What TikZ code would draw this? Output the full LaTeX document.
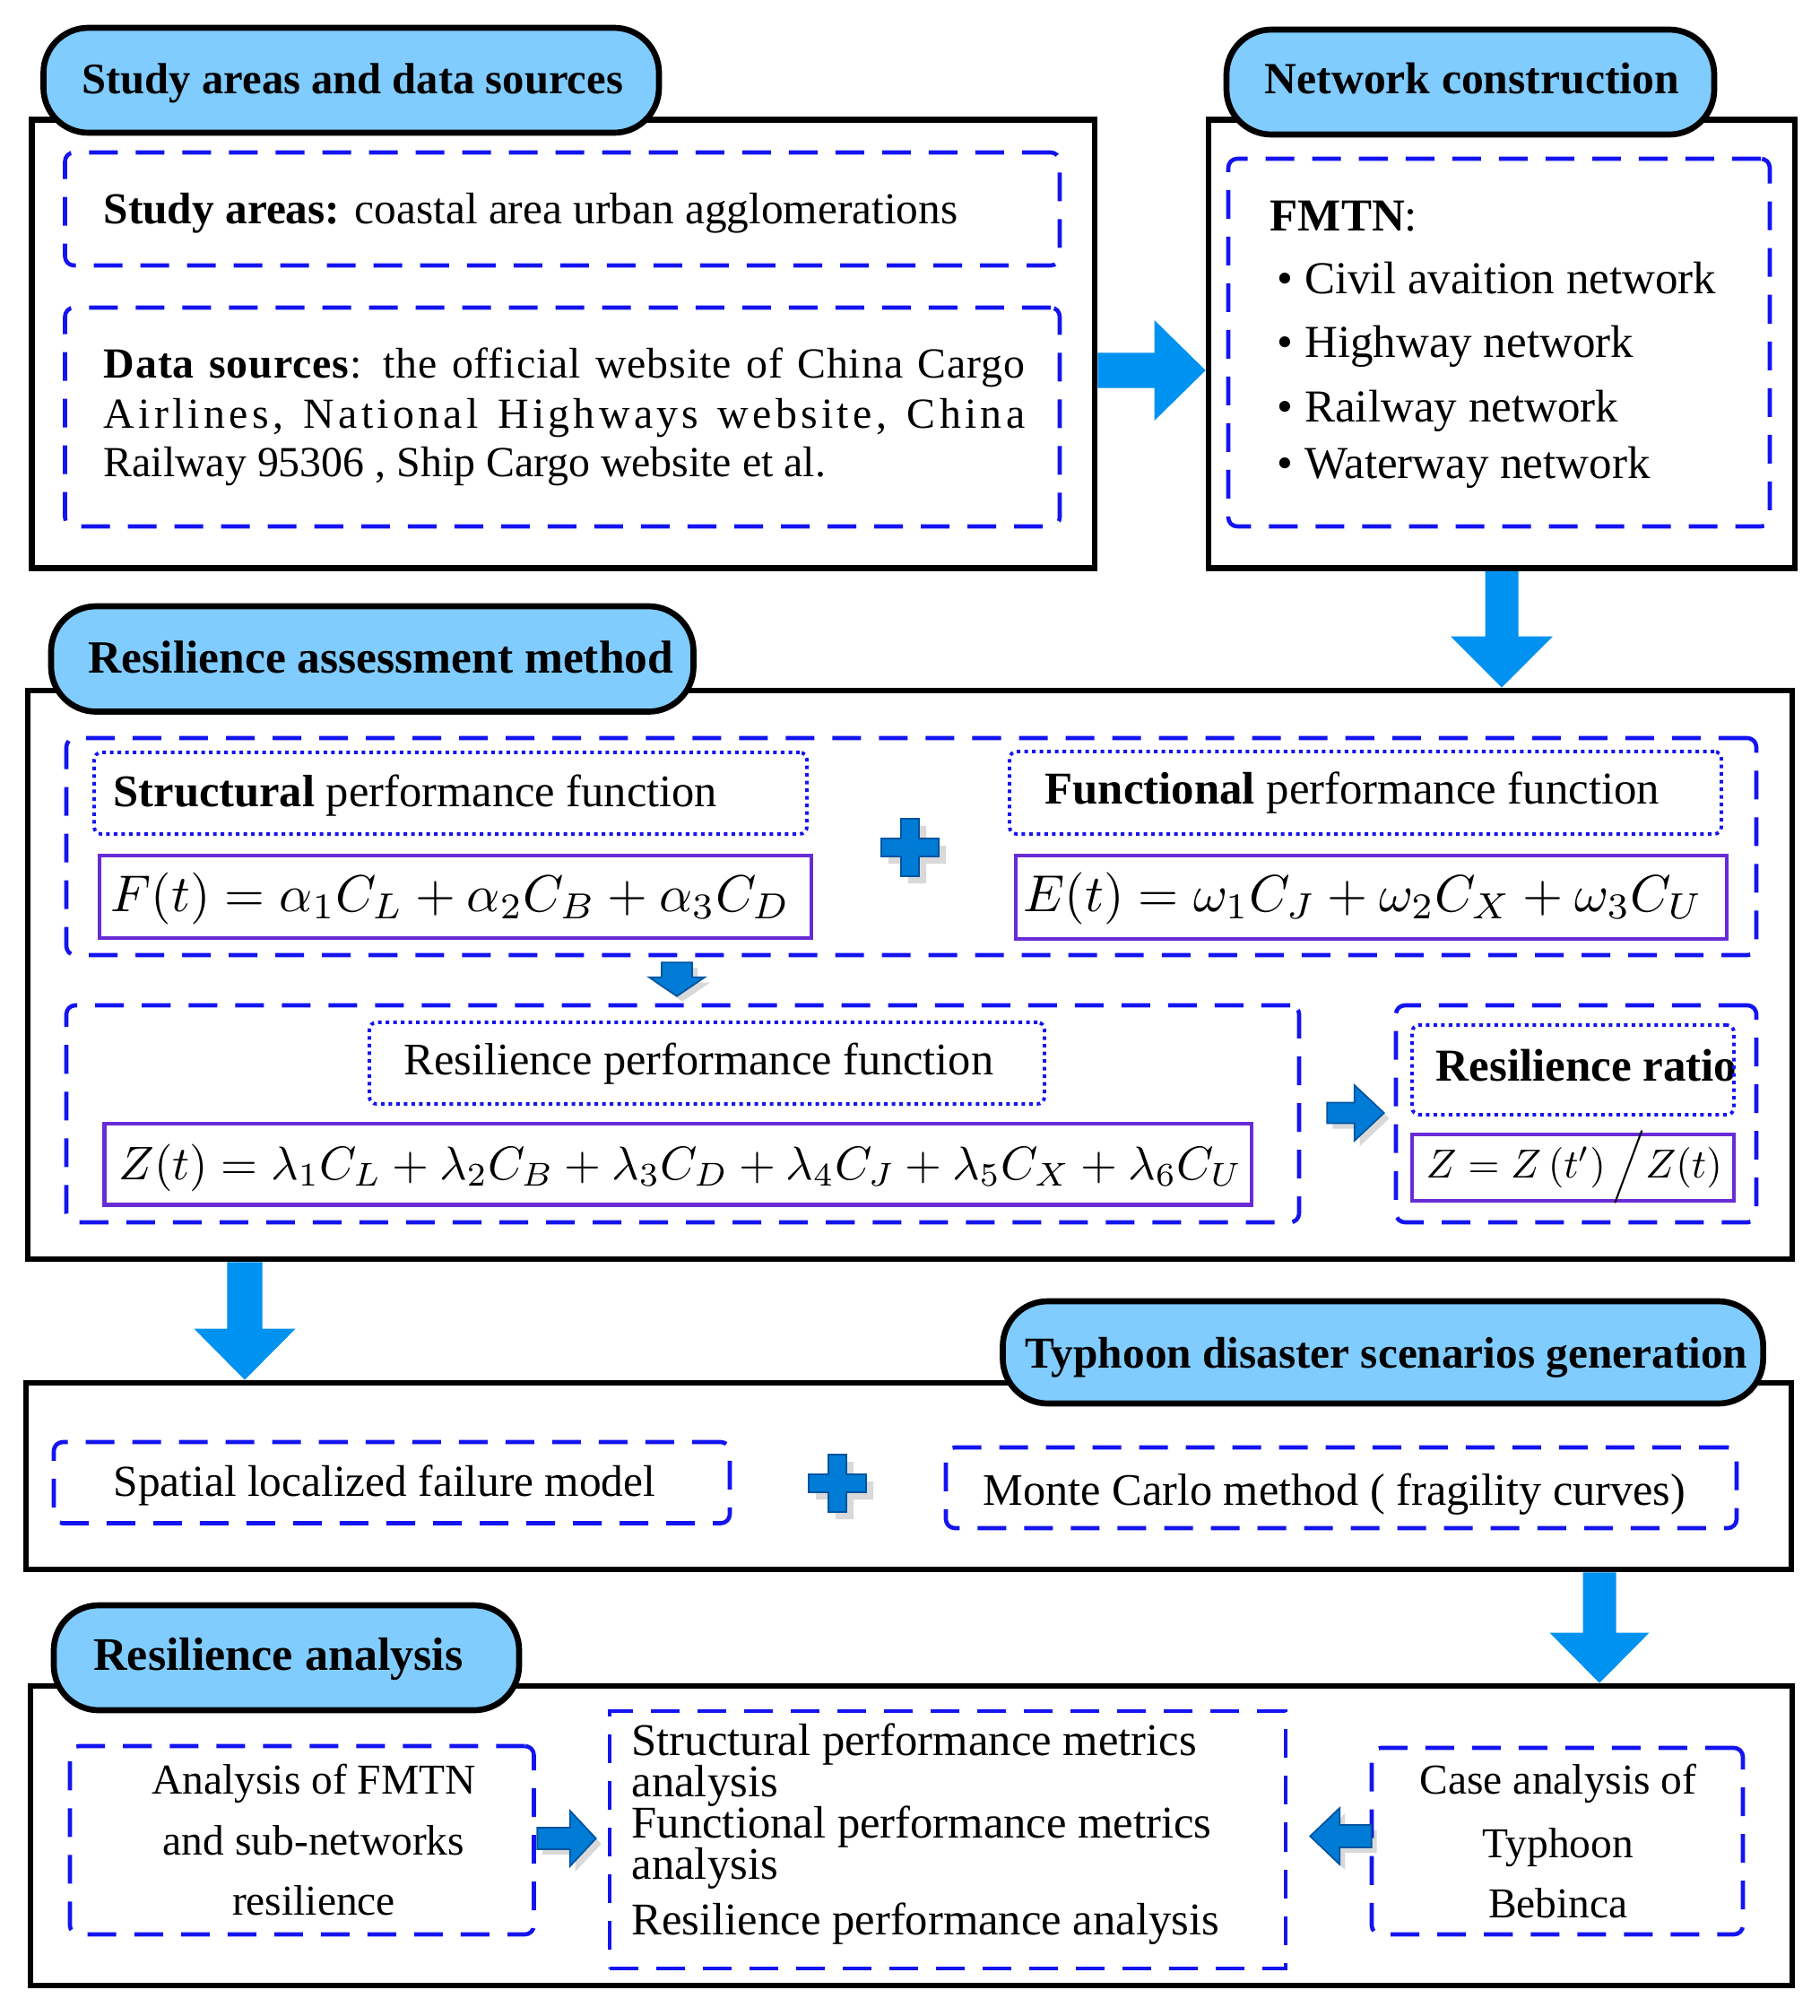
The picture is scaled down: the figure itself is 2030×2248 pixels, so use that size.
\documentclass[tikz,border=0pt]{standalone}
\usepackage{fontspec}
\setmainfont{Liberation Serif}
\usepackage{graphicx}
\usetikzlibrary{calc,fit}
\definecolor{pillblue}{RGB}{128,204,255}
\definecolor{dblue}{RGB}{20,20,240}
\definecolor{eqpurple}{RGB}{104,44,214}
\definecolor{arrowblue}{RGB}{0,146,240}
\definecolor{sarrow}{RGB}{0,124,214}
\definecolor{sarrowline}{RGB}{0,84,160}
\newcommand\fw[2]{\resizebox{#1}{!}{#2}}
\newcommand\fsdata{\fontsize{13.6pt}{15pt}\selectfont}
\newcommand\fsfm{\fontsize{14.5pt}{16pt}\selectfont}
\newcommand\fsmid{\fontsize{14.4pt}{16pt}\selectfont}
\newcommand\fsside{\fontsize{13.5pt}{16pt}\selectfont}
\newcommand\fsratio{\fontsize{14.5pt}{16pt}\selectfont}
\newcommand\areabox[6]{\node[#1, fit={(#3,#4) (#5,#6)}] (#2) {};}
\newcommand\blockarrow[6]{%
  \coordinate (baA) at (#2);
  \coordinate (baB) at (#3);
  \coordinate (baH) at ($(baB)!#6!(baA)$);
  \path[#1] ($(baA)!#4!90:(baB)$) -- ($(baH)!#4!90:(baB)$) -- ($(baH)!#5!90:(baB)$) -- (baB)
    -- ($(baH)!#5!-90:(baB)$) -- ($(baH)!#4!-90:(baB)$) -- ($(baA)!#4!-90:(baB)$) -- cycle;}
\newcommand\pluspath{(-10,-32) -- (10,-32) -- (10,-10) -- (32,-10) -- (32,10) -- (10,10) -- (10,32) -- (-10,32) -- (-10,10) -- (-32,10) -- (-32,-10) -- (-10,-10) -- cycle}
\newcommand\plussign[2]{%
  \begin{scope}[shift={(#1,#2)}]
    \fill[arrowshadow, shift={(8,8)}] \pluspath;
    \filldraw[smallarrow] \pluspath;
  \end{scope}}
\tikzset{
  outerbox/.style={draw=black, line width=1.9pt, inner sep=0pt},
  pill/.style={draw=black, line width=1.9pt, fill=pillblue, rounded corners=0.5cm, inner sep=0pt},
  dashbox/.style={draw=dblue, line width=1.3pt, dash pattern=on 0.32cm off 0.2cm, rounded corners=0.1cm, inner sep=0pt},
  sqdashbox/.style={draw=dblue, line width=1.3pt, dash pattern=on 0.32cm off 0.2cm, inner sep=0pt},
  dotbox/.style={draw=dblue, line width=1.1pt, dash pattern=on 0.04cm off 0.045cm, rounded corners=0.08cm, inner sep=0pt},
  eqbox/.style={draw=eqpurple, line width=1.3pt, inner sep=0pt},
  txt/.style={anchor=base west, inner sep=0pt},
  ctxt/.style={anchor=base, inner sep=0pt},
  bigarrow/.style={fill=arrowblue},
  smallarrow/.style={fill=sarrow, draw=sarrowline, line width=0.5pt},
  arrowshadow/.style={fill=black, opacity=0.15},
}
\begin{document}
\begin{tikzpicture}[x=0.01cm, y=-0.01cm]
\fill[white] (0,0) rectangle (2030,2248);
\useasboundingbox (0,0) rectangle (2030,2248);

% ---------- outer boxes ----------
\areabox{outerbox}{b1}{35.6}{133.5}{1221}{633.5}
\areabox{outerbox}{b2}{1348}{133.5}{2002}{633.5}
\areabox{outerbox}{b3}{31}{770}{1999}{1404}
\areabox{outerbox}{b4}{29}{1542}{1998}{1750}
\areabox{outerbox}{b5}{34}{1880}{1999}{2214}

% ---------- title pills ----------
\areabox{pill}{p1}{48.5}{31}{735}{148}
\areabox{pill}{p2}{1368}{33}{1912}{150}
\areabox{pill}{p3}{57}{676}{773.5}{793.5}
\areabox{pill}{p4}{1118.5}{1451}{1966.6}{1565}
\areabox{pill}{p5}{60}{1790}{579}{1907}

% ---------- inner boxes ----------
\areabox{dashbox}{d1a}{72.5}{170}{1182}{296}
\areabox{dashbox}{d1b}{72.5}{343}{1182}{587}
\areabox{dashbox}{d2}{1370}{177}{1974}{587}
\areabox{dashbox}{dA}{74}{823}{1959}{1065}
\areabox{dotbox}{dst}{105}{839}{900}{930}
\areabox{eqbox}{ef}{111}{954}{905}{1046}
\areabox{dotbox}{dfu}{1126}{838}{1920}{930}
\areabox{eqbox}{ee}{1133}{954}{1926}{1047}
\areabox{dashbox}{dB}{74}{1121}{1449}{1363}
\areabox{dotbox}{dre}{412}{1140}{1165}{1231}
\areabox{eqbox}{ez}{116.5}{1253}{1396}{1343.5}
\areabox{dashbox}{dC}{1557}{1121}{1959}{1363}
\begin{scope}
  \clip (1575,1143) rectangle (1936,1243);
  \node[txt, font=\fsratio] (rr) at (1601,1205) {\textbf{Resilience ratio}};
\end{scope}
\areabox{dotbox}{dra}{1575}{1143}{1934}{1243}
\areabox{eqbox}{era}{1575}{1265}{1934}{1339}
\areabox{dashbox}{d4a}{60}{1608}{814}{1698.5}
\areabox{dashbox}{d4b}{1055}{1614}{1937}{1704}
\areabox{dashbox}{d5a}{78}{1947}{595.5}{2157}
\areabox{sqdashbox}{d5b}{680}{1908}{1434}{2195}
\areabox{dashbox}{d5c}{1530}{1949}{1944}{2157}

% ---------- big arrows ----------
\blockarrow{bigarrow}{b1.east |- 0,413}{b2.west |- 0,413}{0.195cm}{0.56cm}{0.57cm}
\blockarrow{bigarrow}{b2.south -| 1675,0}{b3.north -| 1675,0}{0.185cm}{0.57cm}{0.57cm}
\blockarrow{bigarrow}{b3.south -| 273,0}{b4.north -| 273,0}{0.195cm}{0.565cm}{0.57cm}
\blockarrow{bigarrow}{b4.south -| 1784,0}{b5.north -| 1784,0}{0.185cm}{0.555cm}{0.56cm}

% ---------- small arrows ----------
\blockarrow{arrowshadow}{$(dA.south -| 755,0)+(6,12)$}{$(dB.north -| 755,0)+(6,-2)$}{0.17cm}{0.31cm}{0.21cm}
\blockarrow{smallarrow}{$(dA.south -| 755,0)+(0,6)$}{$(dB.north -| 755,0)+(0,-8)$}{0.17cm}{0.31cm}{0.21cm}
\blockarrow{arrowshadow}{$(dB.east |- 0,1241)+(35,6)$}{$(dC.west |- 0,1241)+(-5,6)$}{0.115cm}{0.31cm}{0.33cm}
\blockarrow{smallarrow}{$(dB.east |- 0,1241)+(29,0)$}{$(dC.west |- 0,1241)+(-11,0)$}{0.115cm}{0.31cm}{0.33cm}
\blockarrow{arrowshadow}{$(d5a.east |- 0,2050)+(7,6)$}{$(d5b.west |- 0,2050)+(-7,6)$}{0.12cm}{0.31cm}{0.29cm}
\blockarrow{smallarrow}{$(d5a.east |- 0,2050)+(1.5,0)$}{$(d5b.west |- 0,2050)+(-13,0)$}{0.12cm}{0.31cm}{0.29cm}
\blockarrow{arrowshadow}{$(d5c.west |- 0,2047.5)+(8,6)$}{$(d5b.east |- 0,2047.5)+(31,6)$}{0.125cm}{0.315cm}{0.33cm}
\blockarrow{smallarrow}{$(d5c.west |- 0,2047.5)+(2,0)$}{$(d5b.east |- 0,2047.5)+(25,0)$}{0.125cm}{0.315cm}{0.33cm}

% ---------- plus signs ----------
\plussign{1015}{945}
\plussign{934}{1654}

% ---------- texts: section 1 ----------
\node[txt] (t1) at (91,104) {\fw{6.03cm}{\bfseries Study areas and data sources}};
\node[txt] (sa) at (115,249) {\fw{9.52cm}{\textbf{Study areas:} coastal area urban agglomerations}};
\node[txt, font=\fsdata] (ds1) at (115,421) {\makebox[10.27cm][s]{\addfontfeature{LetterSpace=2}\textbf{Data sources}: the official website of China Cargo}};
\node[txt, font=\fsdata] (ds2) at (115,477) {\makebox[10.27cm][s]{\addfontfeature{LetterSpace=9}Airlines, National Highways website, China}};
\node[txt, font=\fsdata] (ds3) at (115,531) {Railway 95306 , Ship Cargo website et al.};

% ---------- texts: section 2 ----------
\node[txt] (t2) at (1410,104) {\fw{4.62cm}{\bfseries Network construction}};
\node[txt, font=\fsfm] (fm) at (1416,257) {\textbf{FMTN}:};
\node[txt, font=\fsfm] (n1) at (1424,327.5) {\textbullet\ Civil avaition network};
\node[txt, font=\fsfm] (n2) at (1424,398) {\textbullet\ Highway network};
\node[txt, font=\fsfm] (n3) at (1424,470.5) {\textbullet\ Railway network};
\node[txt, font=\fsfm] (n4) at (1424,533) {\textbullet\ Waterway network};

% ---------- texts: section 3 ----------
\node[txt] (t3) at (98,750) {\fw{6.52cm}{\bfseries Resilience assessment method}};
\node[txt] (st) at (126,899) {\fw{6.73cm}{\textbf{Structural} performance function}};
\node[txt] (fe) at (123,1016) {\fw{7.57cm}{$F(t) = \alpha_1C_L + \alpha_2C_B + \alpha_3C_D$}};
\node[txt] (fu) at (1165,896) {\fw{6.85cm}{\textbf{Functional} performance function}};
\node[txt] (ee2) at (1141,1016) {\fw{7.57cm}{$E(t) = \omega_1C_J + \omega_2C_X + \omega_3C_U$}};
\node[txt] (re) at (450,1198) {\fw{6.57cm}{Resilience performance function}};
\node[txt] (ze) at (132,1315) {\fw{12.52cm}{$Z(t) = \lambda_1C_L + \lambda_2C_B + \lambda_3C_D + \lambda_4C_J + \lambda_5C_X + \lambda_6C_U$}};
\node[txt] (rq) at (1590,1313) {\fw{3.30cm}{$Z = Z\left(t'\right)\Big/Z(t)$}};

% ---------- texts: section 4 ----------
\node[txt] (t4) at (1143,1525) {\fw{8.05cm}{\bfseries Typhoon disaster scenarios generation}};
\node[txt] (sp) at (126,1668) {\fw{6.04cm}{Spatial localized failure model}};
\node[txt] (mc) at (1096,1678.5) {\fw{7.83cm}{Monte Carlo method ( fragility curves)}};

% ---------- texts: section 5 ----------
\node[txt] (t5) at (103.6,1862) {\fw{4.12cm}{\bfseries Resilience analysis}};
\node[ctxt, font=\fsside] (l1) at (350,2000) {Analysis of FMTN};
\node[ctxt, font=\fsside] (l2) at (350,2068) {and sub-networks};
\node[ctxt, font=\fsside] (l3) at (350,2135.5) {resilience};
\node[txt, font=\fsmid] (m1) at (704,1957) {Structural performance metrics};
\node[txt, font=\fsmid] (m2) at (704,2003) {analysis};
\node[txt, font=\fsmid] (m3) at (704,2049) {Functional performance metrics};
\node[txt, font=\fsmid] (m4) at (704,2095) {analysis};
\node[txt, font=\fsmid] (m5) at (704,2157) {Resilience performance analysis};
\node[ctxt, font=\fsside] (r1) at (1738,2000) {Case analysis of};
\node[ctxt, font=\fsside] (r2) at (1738,2071) {Typhoon};
\node[ctxt, font=\fsside] (r3) at (1738,2138) {Bebinca};
\end{tikzpicture}
\end{document}
